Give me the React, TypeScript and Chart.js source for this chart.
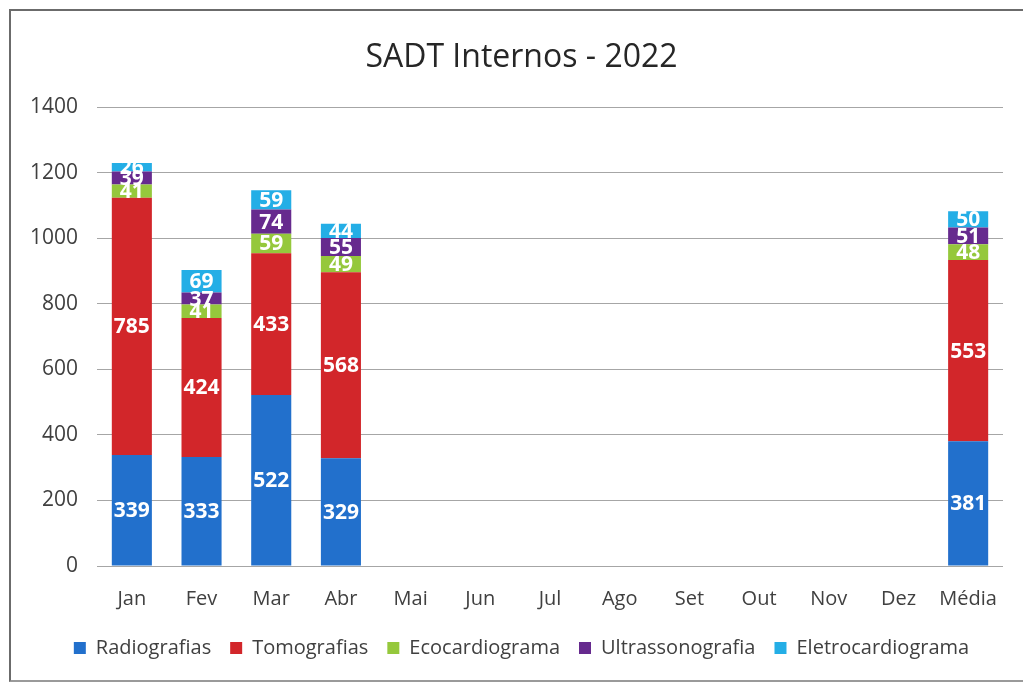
import React, { useEffect, useRef } from "react";
import { Chart, registerables } from "chart.js";

Chart.register(...registerables);

const categories = ["Jan", "Fev", "Mar", "Abr", "Mai", "Jun", "Jul", "Ago", "Set", "Out", "Nov", "Dez", "Média"];
const radiografias = [339, 333, 522, 329, null, null, null, null, null, null, null, null, 381];
const tomografias = [785, 424, 433, 568, null, null, null, null, null, null, null, null, 553];
const ecocardiograma = [41, 41, 59, 49, null, null, null, null, null, null, null, null, 48];
const ultrassonografia = [39, 37, 74, 55, null, null, null, null, null, null, null, null, 51];
const eletrocardiograma = [26, 69, 59, 44, null, null, null, null, null, null, null, null, 50];
const seriesNames = ["Radiografias", "Tomografias", "Ecocardiograma", "Ultrassonografia", "Eletrocardiograma"];
const seriesColors = ["#2270cc", "#d2262a", "#95c83c", "#662a8e", "#24aee6"];
const yTicks = [0, 200, 400, 600, 800, 1000, 1200, 1400];

const FONT = "'Open Sans', Lato, sans-serif";

const valueLabels = {
  id: "valueLabels",
  afterDatasetsDraw(chart: any) {
    const ctx = chart.ctx;
    ctx.save();
    ctx.font = `bold 21px ${FONT}`;
    ctx.fillStyle = "#ffffff";
    ctx.textAlign = "center";
    ctx.textBaseline = "middle";
    chart.data.datasets.forEach((ds: any, i: number) => {
      const meta = chart.getDatasetMeta(i);
      meta.data.forEach((bar: any, j: number) => {
        const v = ds.data[j];
        if (v == null) return;
        const { x, y, base } = bar.getProps(["x", "y", "base"], true);
        ctx.fillText(String(v), x, (y + base) / 2 + 1);
      });
    });
    ctx.restore();
  },
};

export default function App() {
  const ref = useRef<HTMLCanvasElement>(null);
  useEffect(() => {
    if (!ref.current) return;
    const data = [radiografias, tomografias, ecocardiograma, ultrassonografia, eletrocardiograma];
    const chart = new Chart(ref.current, {
      type: "bar",
      data: {
        labels: categories,
        datasets: data.map((d, i) => ({
          label: seriesNames[i],
          data: d,
          backgroundColor: seriesColors[i],
          borderWidth: 0,
          categoryPercentage: 1,
          barPercentage: 0.575,
        })),
      },
      options: {
        responsive: false,
        animation: false,
        layout: { padding: { left: 20, right: 0, top: 0, bottom: 15 } },
        plugins: {
          title: {
            display: true,
            text: "SADT Internos - 2022",
            color: "#262626",
            font: { family: FONT, size: 32, weight: "normal" },
            padding: { top: 39, bottom: 30 },
          },
          legend: {
            position: "bottom",
            labels: {
              color: "#404040",
              font: { family: FONT, size: 20 },
              boxWidth: 12,
              boxHeight: 12,
              padding: 19,
            },
          },
          tooltip: { enabled: false },
        },
        scales: {
          x: {
            stacked: true,
            grid: { display: false },
            border: { display: false },
            ticks: { color: "#404040", font: { family: FONT, size: 20 }, padding: 13 },
            afterFit: (s: any) => { s.height = 53; },
          },
          y: {
            stacked: true,
            min: 0,
            max: 1400,
            afterBuildTicks: (s: any) => { s.ticks = yTicks.map((v) => ({ value: v })); },
            grid: { color: "#a6a6a6", lineWidth: 1, drawTicks: false },
            border: { display: false },
            ticks: { color: "#404040", font: { family: FONT, size: 21 }, padding: 19, callback: (v: any) => String(v) },
            afterFit: (s: any) => { s.width = 77; },
          },
          yRight: {
            position: "right",
            min: 0,
            max: 1400,
            grid: { display: false, drawTicks: false },
            border: { display: false },
            ticks: { display: false },
            afterFit: (s: any) => { s.width = 20; },
          },
        },
      },
      plugins: [valueLabels],
    });
    return () => chart.destroy();
  }, []);
  return (
    <div style={{ position: "absolute", left: 0, top: 0, width: 1023, height: 683, background: "#fff", overflow: "hidden" }}>
      <div style={{ position: "absolute", left: 9, top: 9, width: 1030, height: 669, borderLeft: "2px solid #6b6b6b", borderTop: "2px solid #6b6b6b", borderBottom: "2px solid #9a9a9a" }} />
      <canvas ref={ref} width={1023} height={683} style={{ position: "absolute", left: 0, top: 0 }} />
    </div>
  );
}
